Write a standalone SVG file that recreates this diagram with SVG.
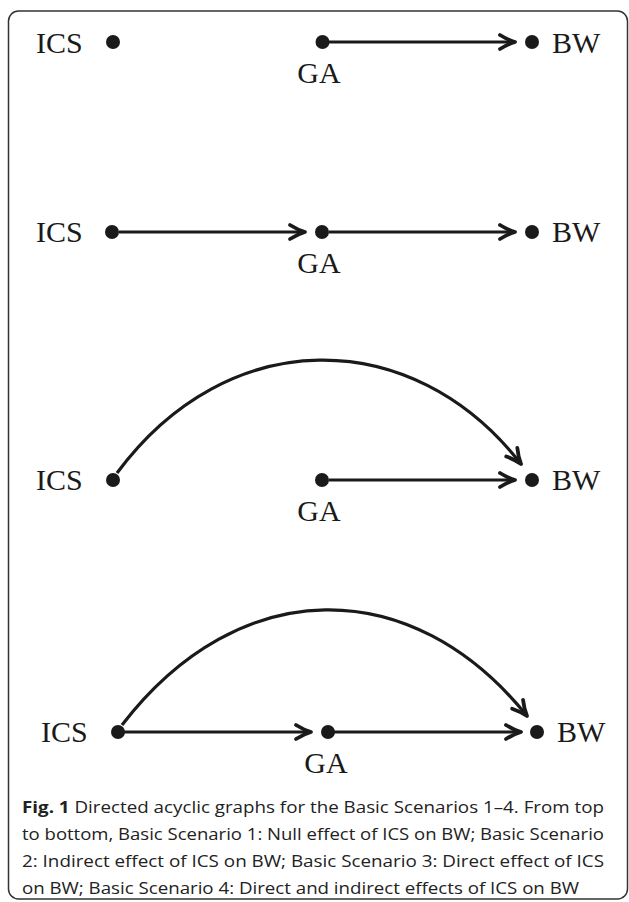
<svg xmlns="http://www.w3.org/2000/svg" width="629" height="902" viewBox="0 0 629 902">
<style>
.lbl{font-family:"Liberation Serif","Times New Roman",serif;font-size:30px;fill:#1a1a1a}
.dot{fill:#1a1a1a}
.edge{fill:none;stroke:#1a1a1a;stroke-width:3.2;marker-end:url(#arr)}
.cap{font-family:"Open Sans","Liberation Sans",sans-serif;font-size:16px;fill:#222}
.b{font-weight:bold}
</style>
<defs>
<marker id="arr" markerUnits="userSpaceOnUse" viewBox="-19 -10 22 20" markerWidth="22" markerHeight="20" refX="0" refY="0" orient="auto">
<path d="M-15,-7 Q-7,-2 0,0 Q-7,2 -15,7" fill="none" stroke="#1a1a1a" stroke-width="3.8" stroke-linejoin="round" stroke-linecap="round"/>
</marker>
</defs>
<rect x="8.5" y="11" width="619" height="888" rx="10" ry="10" fill="#fff" stroke="#333" stroke-width="1.5"/>

<g id="connectors">
<line class="edge" x1="329" y1="42" x2="515" y2="42"/>
<line class="edge" x1="119" y1="232" x2="305" y2="232"/>
<line class="edge" x1="329" y1="232" x2="515" y2="232"/>
<path class="edge" d="M117,473 C227,324 412,324 521,464"/>
<line class="edge" x1="329" y1="480" x2="515" y2="480"/>
<path class="edge" d="M122,725 C239,573 412,573 527,716"/>
<line class="edge" x1="124" y1="732" x2="311" y2="732"/>
<line class="edge" x1="334" y1="732" x2="521" y2="732"/>
</g>

<g id="s1-ics"><circle class="dot" cx="113" cy="42" r="7"/><text class="lbl" x="36" y="53">ICS</text></g>
<g id="s1-ga"><circle class="dot" cx="322.5" cy="42" r="7"/><text class="lbl" x="319" y="83" text-anchor="middle">GA</text></g>
<g id="s1-bw"><circle class="dot" cx="532" cy="42" r="7"/><text class="lbl" x="552" y="53">BW</text></g>

<g id="s2-ics"><circle class="dot" cx="112" cy="232" r="7"/><text class="lbl" x="36" y="242">ICS</text></g>
<g id="s2-ga"><circle class="dot" cx="322" cy="232" r="7"/><text class="lbl" x="319" y="273" text-anchor="middle">GA</text></g>
<g id="s2-bw"><circle class="dot" cx="532" cy="232" r="7"/><text class="lbl" x="552" y="242">BW</text></g>

<g id="s3-ics"><circle class="dot" cx="113" cy="480" r="7"/><text class="lbl" x="36" y="490">ICS</text></g>
<g id="s3-ga"><circle class="dot" cx="322" cy="480" r="7"/><text class="lbl" x="319" y="521" text-anchor="middle">GA</text></g>
<g id="s3-bw"><circle class="dot" cx="532" cy="480" r="7"/><text class="lbl" x="552" y="490">BW</text></g>

<g id="s4-ics"><circle class="dot" cx="118" cy="732" r="7"/><text class="lbl" x="41" y="742">ICS</text></g>
<g id="s4-ga"><circle class="dot" cx="328" cy="732" r="7"/><text class="lbl" x="326" y="773" text-anchor="middle">GA</text></g>
<g id="s4-bw"><circle class="dot" cx="537" cy="732" r="7"/><text class="lbl" x="557" y="742">BW</text></g>

<g id="caption">
<text class="cap" x="22" y="813" textLength="582" lengthAdjust="spacingAndGlyphs"><tspan class="b">Fig. 1</tspan> Directed acyclic graphs for the Basic Scenarios 1–4. From top</text>
<text class="cap" x="22" y="840" textLength="582" lengthAdjust="spacingAndGlyphs">to bottom, Basic Scenario 1: Null effect of ICS on BW; Basic Scenario</text>
<text class="cap" x="22" y="867" textLength="582" lengthAdjust="spacingAndGlyphs">2: Indirect effect of ICS on BW; Basic Scenario 3: Direct effect of ICS</text>
<text class="cap" x="22" y="894" textLength="557" lengthAdjust="spacingAndGlyphs">on BW; Basic Scenario 4: Direct and indirect effects of ICS on BW</text>
</g>
</svg>
